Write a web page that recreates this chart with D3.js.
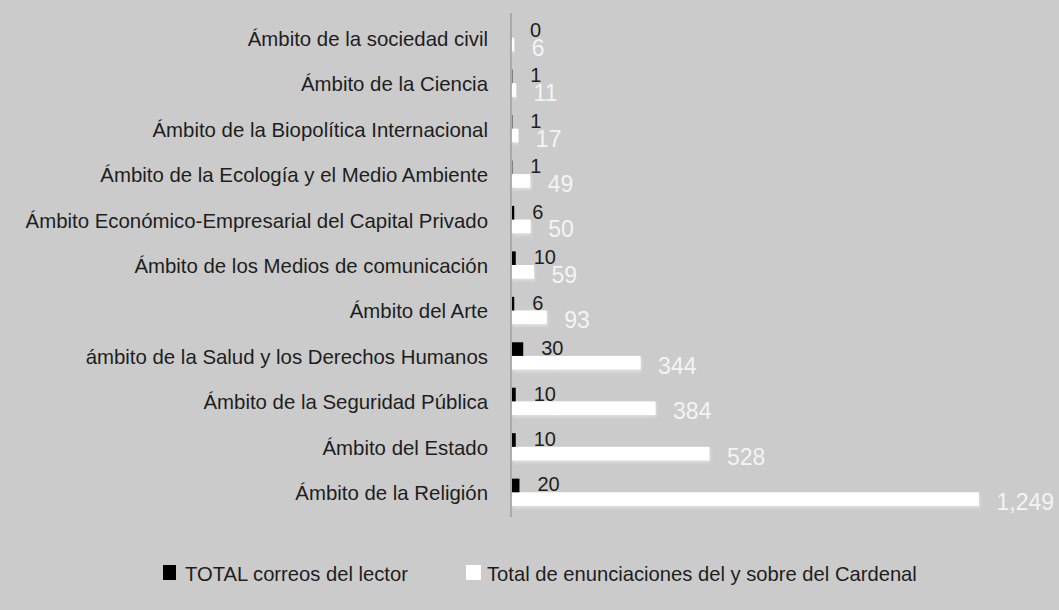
<!DOCTYPE html>
<html>
<head>
<meta charset="utf-8">
<script src="https://cdn.jsdelivr.net/npm/d3@7"></script>
<style>
  html, body { margin: 0; padding: 0; background: #cbcbcb; }
  svg { display: block; font-family: "Liberation Sans", Arial, sans-serif; }
</style>
</head>
<body>
<script>
//chart data, top to bottom
var categorias = [
  "Ámbito de la sociedad civil",
  "Ámbito de la Ciencia",
  "Ámbito de la Biopolítica Internacional",
  "Ámbito de la Ecología y el Medio Ambiente",
  "Ámbito Económico-Empresarial del Capital Privado",
  "Ámbito de los Medios de comunicación",
  "Ámbito del Arte",
  "ámbito de la Salud y los Derechos Humanos",
  "Ámbito de la Seguridad Pública",
  "Ámbito del Estado",
  "Ámbito de la Religión"
];
var correos = [0, 1, 1, 1, 6, 10, 6, 30, 10, 10, 20]; //TOTAL correos del lector
var enunciaciones = [6, 11, 17, 49, 50, 59, 93, 344, 384, 528, 1249]; //Total de enunciaciones
var series = ["TOTAL correos del lector", "Total de enunciaciones del y sobre del Cardenal"];
var seriesColors = ["#000000", "#ffffff"];

window.onload = initialize;

function initialize(){
  drawChart();
};

function drawChart(){

  var width = 1059;
  var height = 610;

  var svg = d3.select("body")
              .append("svg")
              .attr("width", width)
              .attr("height", height);

  //soft glow under the white bars
  var defs = svg.append("defs");
  var filter = defs.append("filter")
                   .attr("id", "barShadow")
                   .attr("x", "-5%").attr("y", "-30%")
                   .attr("width", "115%").attr("height", "190%");
  filter.append("feDropShadow")
        .attr("dx", 1).attr("dy", 2)
        .attr("stdDeviation", 1.5)
        .attr("flood-color", "#eeeeee")
        .attr("flood-opacity", 0.6);

  //rows
  var y = d3.scaleBand()
            .domain(categorias)
            .range([15, 515])
            .paddingInner(0.4)
            .paddingOuter(0.2);

  //two bars inside each row
  var ySub = d3.scaleBand()
               .domain([0, 1])
               .range([0, y.bandwidth()]);

  var x = d3.scaleLinear()
            .domain([0, 1249])
            .range([512, 979]);

  var fmt = d3.format(",");

  //category axis on the left
  var yAxisScale = d3.scaleBand()
                     .domain(categorias)
                     .range([16.5, 516.5]);

  var axis = svg.append("g")
                .attr("class", "axis")
                .attr("transform", "translate(511,0)")
                .call(d3.axisLeft(yAxisScale).tickSize(0).tickSizeOuter(0).tickPadding(23));

  axis.select(".domain")
      .attr("stroke", "#9e9e9e")
      .attr("stroke-width", 1.5)
      .attr("d", "M0,13V517");

  axis.selectAll("text")
      .attr("font-family", "Liberation Sans, Arial, sans-serif")
      .attr("font-size", 20.4)
      .attr("fill", "#1e1e1e");

  var rows = svg.selectAll(".row")
                .data(categorias)
              .enter().append("g")
                .attr("class", "row")
                .attr("transform", function(d) { return "translate(0," + y(d) + ")"; });

  //white bars (enunciaciones)
  rows.append("rect")
      .attr("x", x(0))
      .attr("y", ySub(1))
      .attr("width", function(d, i) { return x(enunciaciones[i]) - x(0); })
      .attr("height", ySub.bandwidth())
      .attr("fill", seriesColors[1])
      .attr("filter", "url(#barShadow)");

  //black bars (correos)
  rows.append("rect")
      .attr("x", x(0))
      .attr("y", ySub(0))
      .attr("width", function(d, i) { return x(correos[i]) - x(0); })
      .attr("height", ySub.bandwidth())
      .attr("fill", seriesColors[0]);

  //black value labels
  rows.append("text")
      .attr("x", function(d, i) { return x(correos[i]) + 18; })
      .attr("y", ySub(0) + ySub.bandwidth() / 2 - 1)
      .attr("dy", "0.35em")
      .attr("font-size", 20)
      .attr("fill", "#1e1e1e")
      .text(function(d, i) { return fmt(correos[i]); });

  //white value labels
  rows.append("text")
      .attr("x", function(d, i) { return x(enunciaciones[i]) + 17.5; })
      .attr("y", ySub(1) + ySub.bandwidth() / 2 + 3)
      .attr("dy", "0.35em")
      .attr("font-size", 23)
      .attr("fill", "#f4f4f4")
      .text(function(d, i) { return fmt(enunciaciones[i]); });

  //legend
  var legendX = [163, 466];
  var legend = svg.selectAll(".legend")
                  .data(series)
                .enter().append("g")
                  .attr("class", "legend")
                  .attr("transform", function(d, i) { return "translate(" + legendX[i] + ",565)"; });

  legend.append("rect")
        .attr("width", function(d, i) { return i == 0 ? 13 : 15; })
        .attr("height", 15)
        .attr("fill", function(d, i) { return seriesColors[i]; });

  legend.append("text")
        .attr("x", function(d, i) { return i == 0 ? 22 : 21; })
        .attr("y", 16)
        .attr("font-size", 20.2)
        .attr("fill", "#1e1e1e")
        .text(function(d) { return d; });
};
</script>
</body>
</html>
